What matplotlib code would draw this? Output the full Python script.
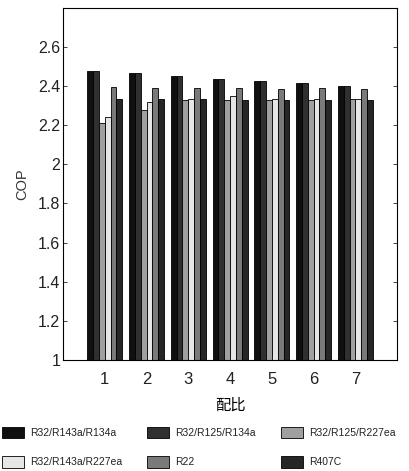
import numpy as np
import matplotlib
matplotlib.use("Agg")
import matplotlib.pyplot as plt

plt.rcParams['font.family'] = ['Liberation Sans', 'Noto Sans CJK SC', 'DejaVu Sans']

# data
ratios = [1, 2, 3, 4, 5, 6, 7]
names = ['R32/R143a/R134a', 'R32/R125/R134a', 'R32/R125/R227ea',
         'R32/R143a/R227ea', 'R22', 'R407C']
r32_r143a_r134a = [2.48, 2.465, 2.45, 2.435, 2.425, 2.415, 2.40]
r32_r125_r134a = [2.48, 2.465, 2.45, 2.435, 2.425, 2.415, 2.40]
r32_r125_r227ea = [2.21, 2.28, 2.33, 2.33, 2.33, 2.33, 2.335]
r32_r143a_r227ea = [2.24, 2.32, 2.335, 2.35, 2.335, 2.335, 2.335]
r22 = [2.395, 2.39, 2.39, 2.39, 2.385, 2.39, 2.385]
r407c = [2.335, 2.335, 2.335, 2.33, 2.33, 2.33, 2.33]

series = [r32_r143a_r134a, r32_r125_r134a, r32_r125_r227ea,
          r32_r143a_r227ea, r22, r407c]
colors = ['#101010', '#303030', '#a0a0a0', '#e6e6e6', '#7a7a7a', '#262626']

fig = plt.figure(figsize=(4.09, 4.71), dpi=100)
ax = fig.add_axes([0.154, 0.236, 0.817, 0.747])

x = np.array(ratios, dtype=float)
w = 0.14
handles = []
for i, (vals, c) in enumerate(zip(series, colors)):
    off = (i - 2.5) * w
    h = ax.bar(x + off, vals, width=w, color=c, edgecolor='black',
               linewidth=0.6, label=names[i])
    handles.append(h)

ax.set_xlim(0, 8)
ax.set_ylim(1, 2.8)
ax.set_xticks(ratios)
ax.set_xticklabels([str(r) for r in ratios])
yt = [1, 1.2, 1.4, 1.6, 1.8, 2, 2.2, 2.4, 2.6]
ax.set_yticks(yt)
ax.set_yticklabels(['1', '1.2', '1.4', '1.6', '1.8', '2', '2.2', '2.4', '2.6'])
ax.tick_params(direction='in', top=False, right=True,
               length=3, width=0.6, colors='#222222')
ax.tick_params(axis='x', labelsize=12, pad=9)
ax.tick_params(axis='y', labelsize=11.5, pad=2)
for s in ax.spines.values():
    s.set_linewidth(0.8)

ax.set_ylabel('COP', fontsize=10.5, color='#333333', labelpad=6)
ax.set_xlabel('配比', fontsize=11, family=['Noto Sans CJK SC', 'DejaVu Sans'],
              labelpad=7)

order = [0, 3, 1, 4, 2, 5]
fig.legend([handles[i] for i in order], [names[i] for i in order],
           loc='lower left', bbox_to_anchor=(0.0, 0.003), ncol=3,
           frameon=False, handlelength=2.1, handleheight=1.3,
           columnspacing=2.4, handletextpad=0.6, borderaxespad=0.0,
           borderpad=0.2, labelspacing=1.7, fontsize=7.5,
           labelcolor='#222222')

fig.savefig('out.png', dpi=100)
